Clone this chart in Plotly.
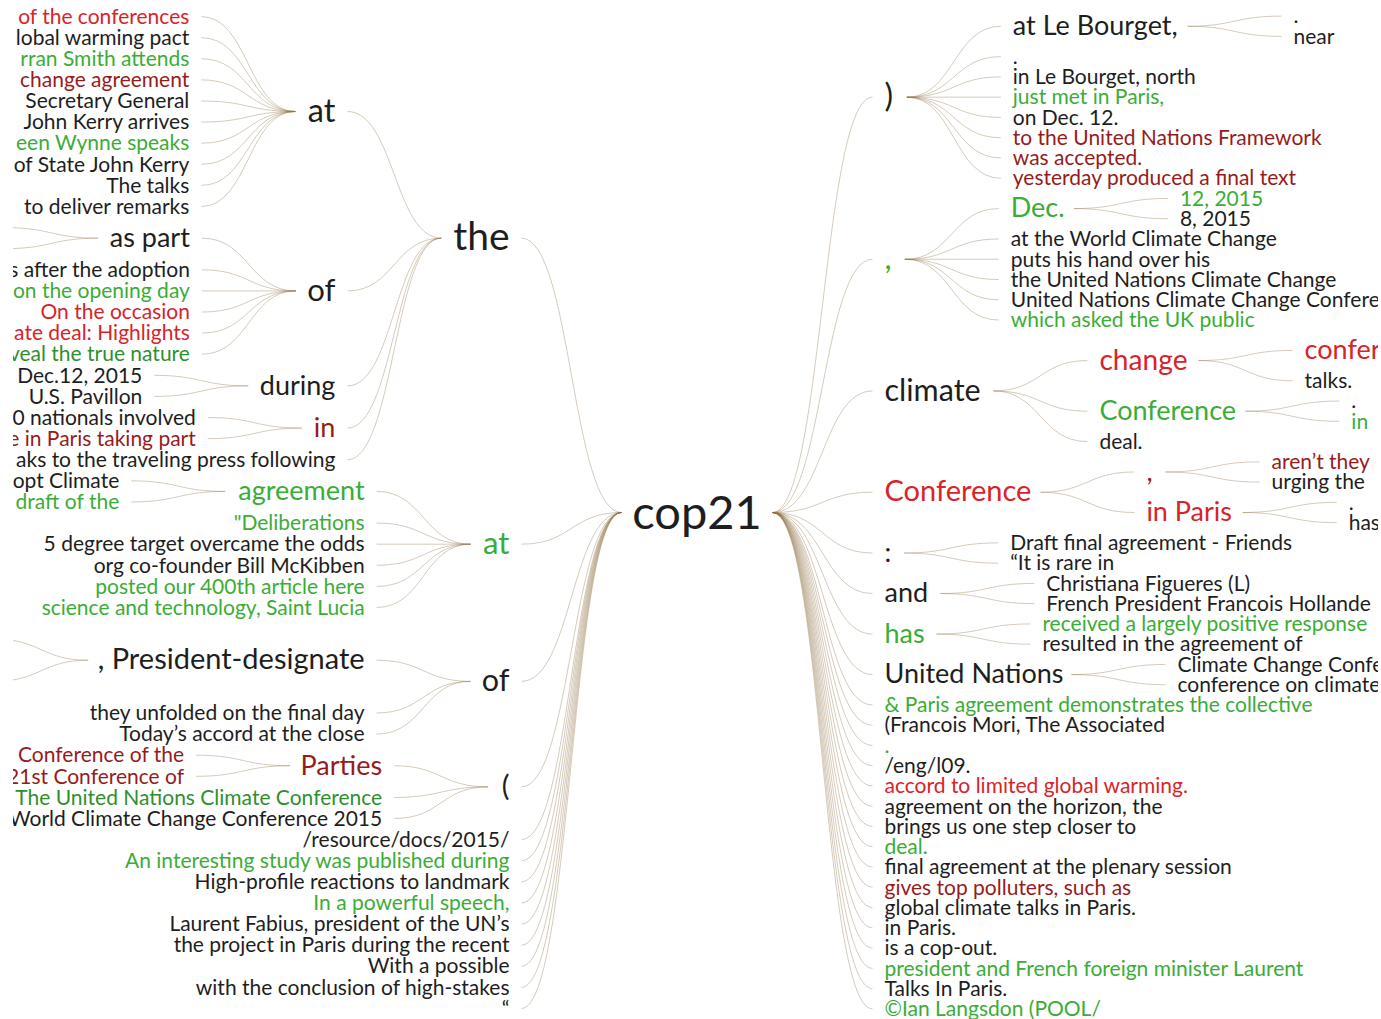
import numpy as np
import plotly.graph_objects as go

# ----------------------------------------------------------------------------
# DATA: a word tree around the root word; parent index -1 means the root word.
# "ends" = number of phrases that end at that node (leaves), internal = 0.
# tones: k = black, g = green, G = dark green, r = red, R = dark red
# ----------------------------------------------------------------------------
ROOT_WORD = "cop21"

left_words = [
    "the", "at", "of the conferences", "lobal warming pact", "rran Smith attends",
    "change agreement", "Secretary General", "John Kerry arrives", "een Wynne speaks",
    "of State John Kerry", "The talks", "to deliver remarks",
    "of", "as part", "", "", "s after the adoption", "on the opening day",
    "On the occasion", "ate deal: Highlights", "veal the true nature",
    "during", "Dec.12, 2015", "U.S. Pavillon",
    "in", "0 nationals involved", "e in Paris taking part",
    "aks to the traveling press following",
    "at", "agreement", "opt Climate", "draft of the", "\"Deliberations",
    "5 degree target overcame the odds", "org co-founder Bill McKibben",
    "posted our 400th article here", "science and technology, Saint Lucia",
    "of", ", President-designate", "", "", "they unfolded on the final day",
    "Today\u2019s accord at the close",
    "(", "Parties", "Conference of the", "21st Conference of",
    "The United Nations Climate Conference", "World Climate Change Conference 2015",
    "/resource/docs/2015/", "An interesting study was published during",
    "High-profile reactions to landmark", "In a powerful speech,",
    "Laurent Fabius, president of the UN\u2019s", "the project in Paris during the recent",
    "With a possible", "with the conclusion of high-stakes", "\u201c",
]
left_parents = [
    -1, 0, 1, 1, 1, 1, 1, 1, 1, 1, 1, 1,
    0, 12, 13, 13, 12, 12, 12, 12, 12,
    0, 21, 21,
    0, 24, 24,
    0,
    -1, 28, 29, 29, 28, 28, 28, 28, 28,
    -1, 37, 38, 38, 37, 37,
    -1, 43, 44, 44, 43, 43,
    -1, -1, -1, -1, -1, -1, -1, -1, -1,
]
left_ends = [
    0, 0, 1, 1, 1, 1, 1, 1, 1, 1, 1, 1,
    0, 0, 1, 1, 1, 1, 1, 1, 1,
    0, 1, 1,
    0, 1, 1,
    1,
    0, 0, 1, 1, 1, 1, 1, 1, 1,
    0, 0, 2, 2, 1, 1,
    0, 0, 1, 1, 1, 1,
    1, 1, 1, 1, 1, 1, 1, 1, 1,
]
left_tones = [
    "k", "k", "r", "k", "g", "R", "k", "k", "g", "k", "k", "k",
    "k", "k", "k", "k", "k", "g", "r", "r", "G",
    "k", "k", "k",
    "R", "k", "R",
    "k",
    "g", "g", "k", "g", "g", "k", "k", "g", "g",
    "k", "k", "k", "k", "k", "k",
    "k", "R", "R", "R", "G", "k",
    "k", "g", "k", "g", "k", "k", "k", "k", "k",
]

right_words = [
    ")", "at Le Bourget,", ".", "near", ".", "in Le Bourget, north",
    "just met in Paris,", "on Dec. 12.", "to the United Nations Framework",
    "was accepted.", "yesterday produced a final text",
    ",", "Dec.", "12, 2015", "8, 2015", "at the World Climate Change",
    "puts his hand over his", "the United Nations Climate Change",
    "United Nations Climate Change Conference", "which asked the UK public",
    "climate", "change", "conference", "talks.", "Conference", ".", "in", "deal.",
    "Conference", ",", "aren\u2019t they", "urging the", "in Paris", ".", "has",
    ":", "Draft final agreement - Friends", "\u201cIt is rare in",
    "and", "Christiana Figueres (L)", "French President Francois Hollande",
    "has", "received a largely positive response", "resulted in the agreement of",
    "United Nations", "Climate Change Conference", "conference on climate",
    "& Paris agreement demonstrates the collective", "(Francois Mori, The Associated",
    ".", "/eng/l09.", "accord to limited global warming.",
    "agreement on the horizon, the", "brings us one step closer to", "deal.",
    "final agreement at the plenary session", "gives top polluters, such as",
    "global climate talks in Paris.", "in Paris.", "is a cop-out.",
    "president and French foreign minister Laurent", "Talks In Paris.",
    "\u00a9Ian Langsdon (POOL/",
]
right_parents = [
    -1, 0, 1, 1, 0, 0, 0, 0, 0, 0, 0,
    -1, 11, 12, 12, 11, 11, 11, 11, 11,
    -1, 20, 21, 21, 20, 24, 24, 20,
    -1, 28, 29, 29, 28, 32, 32,
    -1, 35, 35,
    -1, 38, 38,
    -1, 41, 41,
    -1, 44, 44,
    -1, -1, -1, -1, -1, -1, -1, -1, -1, -1, -1, -1, -1, -1, -1, -1,
]
right_ends = [
    0, 0, 1, 1, 1, 1, 1, 1, 1, 1, 1,
    0, 0, 1, 1, 1, 1, 1, 1, 1,
    0, 0, 2, 1, 0, 1, 1, 1,
    0, 0, 1, 1, 0, 1, 1,
    0, 1, 1,
    0, 1, 1,
    0, 1, 1,
    0, 1, 1,
    1, 1, 1, 1, 1, 1, 1, 1, 1, 1, 1, 1, 1, 1, 1, 1,
]
right_tones = [
    "k", "k", "k", "k", "k", "k", "g", "k", "R", "R", "R",
    "g", "g", "g", "k", "k", "k", "k", "k", "g",
    "k", "r", "r", "k", "g", "k", "g", "k",
    "r", "R", "R", "k", "r", "k", "k",
    "k", "k", "k",
    "k", "k", "k",
    "g", "g", "k",
    "k", "k", "k",
    "g", "k", "g", "k", "r", "k", "k", "g", "k", "R", "k", "k", "k", "g", "k", "g",
]

# ----------------------------------------------------------------------------
# STYLE / LAYOUT CONSTANTS
# ----------------------------------------------------------------------------
W, H = 1381, 1019
MARGIN_L, MARGIN_R = 13, 3
CX = 697.0            # horizontal centre of the root word
TOP, TREE_H = 6.0, 1013.0
GAP = 118.0           # horizontal space between a word and its branches
ROOT_GAP = 124.0
PAD = 12.0            # space between a word and the end of a connector
TEXT_DY = 2.0         # baseline correction for words (px)
ROOT_DY = 4.5         # baseline correction for the root word (px)
FONT = "Lato, 'Open Sans', sans-serif"
FONT_COUNTS = [1, 2, 4, 10, 22, 98]
FONT_SIZES = [21, 27, 29, 32.5, 39, 47]
TONE_COLORS = {"k": "#1e1e1e", "g": "#3aad36", "G": "#2f8f2f",
               "r": "#d82428", "R": "#961c1c"}
LINK_COLOR = "rgba(140,112,66,0.36)"

CHAR_W = {' ': 226, 'a': 479, 'b': 525, 'c': 423, 'd': 525, 'e': 498, 'f': 305,
          'g': 471, 'h': 525, 'i': 229, 'j': 239, 'k': 455, 'l': 229, 'm': 799,
          'n': 525, 'o': 527, 'p': 525, 'q': 525, 'r': 349, 's': 391, 't': 335,
          'u': 525, 'v': 452, 'w': 715, 'x': 433, 'y': 453, 'z': 395,
          'A': 579, 'B': 544, 'C': 533, 'D': 615, 'E': 488, 'F': 459, 'G': 631,
          'H': 623, 'I': 252, 'J': 319, 'K': 520, 'L': 420, 'M': 855, 'N': 646,
          'O': 662, 'P': 517, 'Q': 673, 'R': 543, 'S': 459, 'T': 487, 'U': 642,
          'V': 567, 'W': 890, 'X': 519, 'Y': 487, 'Z': 468, '.': 252, ',': 250,
          ':': 268, ';': 268, '(': 303, ')': 303, '-': 306, "'": 221,
          '\u2019': 250, '\u201c': 418, '"': 401, '/': 386, '&': 682, '\u00a9': 738}
for d in "0123456789":
    CHAR_W[d] = 537
WIDTH_SCALE = 1.06


def font_size(count):
    return float(np.interp(np.log(count), np.log(FONT_COUNTS), FONT_SIZES))


def text_width(s, size):
    return sum(CHAR_W.get(ch, 500) for ch in s) / 1000.0 * WIDTH_SCALE * size


root_size = font_size(sum(left_ends) + sum(right_ends))
root_w = text_width(ROOT_WORD, root_size)
ROOT_Y = TOP + TREE_H / 2

texts, xs, ys, sizes, colors, positions = [], [], [], [], [], []
shapes = []


def add_text(word, x, y, size, color, pos, dy=TEXT_DY):
    texts.append(word)
    xs.append(x)
    ys.append(y + dy)
    sizes.append(size)
    colors.append(color)
    positions.append(pos)


def layout_side(words, parents, ends, tones, direction):
    n = len(words)
    kids = [[] for _ in range(n)]
    tops = []
    for i, p in enumerate(parents):
        (tops if p < 0 else kids[p]).append(i)
    count = [0] * n

    def total(i):
        count[i] = ends[i] + sum(total(c) for c in kids[i])
        return count[i]

    units = sum(total(t) for t in tops)
    pitch = TREE_H / units
    root_far = CX + direction * (root_w / 2 + PAD)

    def place(i, top, near_edge, ax, ay):
        size = font_size(count[i])
        w = text_width(words[i], size)
        y = top + count[i] * pitch / 2
        # connector from the parent word to this word
        ex = near_edge - direction * PAD
        xm = (ax + ex) / 2
        shapes.append(dict(
            type="path", xref="x", yref="y",
            path=f"M {ax:.2f},{ay:.2f} C {xm:.2f},{ay:.2f} {xm:.2f},{y:.2f} {ex:.2f},{y:.2f}",
            line=dict(color=LINK_COLOR, width=1), layer="below"))
        if words[i]:
            add_text(words[i], near_edge, y, size, TONE_COLORS[tones[i]],
                     "middle left" if direction < 0 else "middle right")
        far = near_edge + direction * w
        cursor = top
        for c in kids[i]:
            place(c, cursor, far + direction * GAP, far + direction * PAD, y)
            cursor += count[c] * pitch

    cursor = TOP
    first = CX + direction * (root_w / 2 + ROOT_GAP)
    for t in tops:
        place(t, cursor, first, root_far, ROOT_Y)
        cursor += count[t] * pitch


layout_side(left_words, left_parents, left_ends, left_tones, -1)
layout_side(right_words, right_parents, right_ends, right_tones, +1)
add_text(ROOT_WORD, CX, ROOT_Y, root_size, TONE_COLORS["k"], "middle center", ROOT_DY)

fig = go.Figure(go.Scatter(
    x=xs, y=ys, mode="text", text=texts, textposition=positions,
    textfont=dict(family=FONT, size=sizes, color=colors),
    hoverinfo="skip", cliponaxis=True, showlegend=False))

fig.update_layout(
    width=W, height=H,
    margin=dict(l=MARGIN_L, r=MARGIN_R, t=0, b=0),
    paper_bgcolor="white", plot_bgcolor="white",
    shapes=shapes,
    xaxis=dict(range=[MARGIN_L, W - MARGIN_R], visible=False, fixedrange=True),
    yaxis=dict(range=[H, 0], visible=False, fixedrange=True),
)

fig.write_html("out.html", config={"displayModeBar": False},
               post_script="document.body.style.margin='0';")
